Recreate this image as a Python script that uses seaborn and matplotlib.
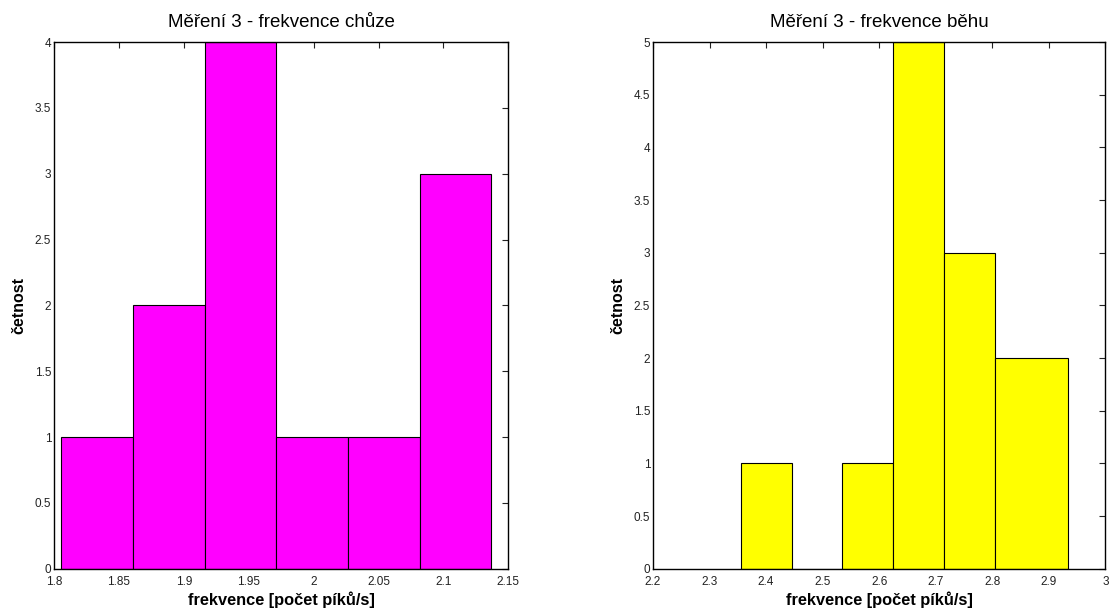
import numpy as np
import pandas as pd
import matplotlib
matplotlib.use("Agg")
import matplotlib.pyplot as plt
import seaborn as sns
from matplotlib.ticker import FuncFormatter, MultipleLocator

# walking frequency histogram (bin edges and counts)
walk_edges = [1.8056, 1.8608, 1.9160, 1.9712, 2.0264, 2.0816, 2.1368]
walk_counts = [1, 2, 4, 1, 1, 3]

# running frequency histogram
run_edges = [2.355, 2.445, 2.535, 2.625, 2.715, 2.805, 2.934]
run_counts = [1, 0, 1, 5, 3, 2]

titles = ["Měření 3 - frekvence chůze", "Měření 3 - frekvence běhu"]
xlabel = "frekvence [počet píků/s]"
ylabel = "četnost"

sns.set_theme(style="white")
plt.rcParams['font.family'] = ['Liberation Sans', 'DejaVu Sans']
plt.rcParams['text.color'] = 'black'
plt.rcParams['axes.labelcolor'] = 'black'

fig = plt.figure(figsize=(11.09, 6.10), dpi=100)
ax1 = fig.add_axes([0.0487, 0.0677, 0.4097, 0.8634])
ax2 = fig.add_axes([0.5888, 0.0677, 0.4080, 0.8634])


def draw(ax, edges, counts, color, xlim, ylim, title):
    centers = [(a + b) / 2 for a, b in zip(edges[:-1], edges[1:])]
    df = pd.DataFrame({'x': centers, 'w': counts})
    sns.histplot(data=df, x='x', weights='w', bins=edges, ax=ax,
                 color=color, alpha=1, edgecolor='black', linewidth=0.8)
    ax.set_xlim(*xlim)
    ax.set_ylim(*ylim)
    ax.xaxis.set_major_locator(MultipleLocator(0.05 if xlim[1] - xlim[0] < 0.5 else 0.1))
    ax.yaxis.set_major_locator(MultipleLocator(0.5))
    fmt = FuncFormatter(lambda v, p: f"{v:g}")
    ax.xaxis.set_major_formatter(fmt)
    ax.yaxis.set_major_formatter(fmt)
    ax.tick_params(direction='in', length=4, width=0.8, top=True, right=True,
                   labelsize=8.5, colors='#222222')
    ax.tick_params(axis='x', pad=5)
    ax.tick_params(axis='y', pad=2)
    for s in ax.spines.values():
        s.set_color('black')
        s.set_linewidth(1)
    ax.set_title(title, fontsize=13.5, pad=11, color='black')
    ax.set_xlabel(xlabel, fontsize=11.8, fontweight='bold', labelpad=3)
    ax.set_ylabel(ylabel, fontsize=11.5, fontweight='bold', labelpad=6)


draw(ax1, walk_edges, walk_counts, '#ff00ff', (1.8, 2.15), (0, 4), titles[0])
draw(ax2, run_edges, run_counts, '#ffff00', (2.2, 3.0), (0, 5), titles[1])

fig.savefig('out.png', dpi=100, facecolor='white')
